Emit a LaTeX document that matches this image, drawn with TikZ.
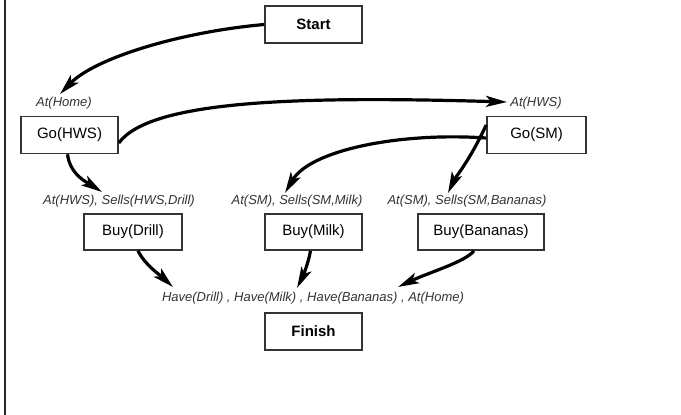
\documentclass[tikz,border=0pt]{standalone}
\usepackage{fontspec}
\setmainfont{Liberation Sans}
\usetikzlibrary{arrows.meta}
\definecolor{boxline}{HTML}{333333}
\definecolor{condtext}{HTML}{333333}
\tikzset{
  action/.style={draw=boxline, line width=1.6pt, minimum height=37pt, inner sep=0pt,
    font=\fontsize{15}{18}\selectfont},
  endpoint/.style={action, font=\fontsize{15}{18}\selectfont\bfseries},
  cond/.style={inner sep=0pt, text=condtext, font=\fontsize{13}{15}\selectfont\itshape},
  link/.style={line width=3.2pt, -{Stealth[length=21pt, width=11pt, inset=5pt]}}
}
\begin{document}
\begin{tikzpicture}[x=1pt, y=-1pt]
  \useasboundingbox (0,0) rectangle (681,415);
  \fill[white] (0,0) rectangle (681,415);
  \draw[line width=1.5pt, black!85] (5,0) -- (5,415);

  % steps of the plan
  \node[endpoint, minimum width=97pt] (start)  at (313.5,24.5) {Start};
  \node[action,   minimum width=97pt] (gohws)  at (69.5,135)   {Go(HWS)};
  \node[action,   minimum width=99pt] (gosm)   at (536.5,135)  {Go(SM)};
  \node[action,   minimum width=98pt, minimum height=36pt] (drill)  at (133,232) {Buy(Drill)};
  \node[action,   minimum width=97pt, minimum height=36pt] (milk)   at (313.5,232) {Buy(Milk)};
  \node[action,   minimum width=126pt, minimum height=36pt] (banana) at (481,232) {Buy(Bananas)};
  \node[endpoint, minimum width=97pt] (finish) at (313.5,331.5) {Finish};

  % preconditions
  \node[cond] (athome) at (64,103) {At(Home)};
  \node[cond] (athws)  at (536,103) {At(HWS)};
  \node[cond] (pdrill) at (119,201) {At(HWS), Sells(HWS,Drill)};
  \node[cond] (pmilk)  at (297,201) {At(SM), Sells(SM,Milk)};
  \node[cond] (pban)   at (467,201) {At(SM), Sells(SM,Bananas)};
  \node[cond] (goal)   at (313,298) {Have(Drill) , Have(Milk) , Have(Bananas) , At(Home)};

  % arrow tips on the preconditions
  \coordinate (tHome)  at (60,94);
  \coordinate (tHws)   at (507,102);
  \coordinate (tDrill) at (102,192);
  \coordinate (tMilk)  at (285,193);
  \coordinate (tBan)   at (448,193);
  \coordinate (gDrill) at (173,287);
  \coordinate (gMilk)  at (297,288);
  \coordinate (gBan)   at (398,287);

  % causal links
  \draw[link] (start.west) .. controls (180,32) and (95,58) .. (tHome);
  \draw[link] ([yshift=-8pt]gohws.east) .. controls (150,100) and (300,96) .. (tHws);
  \draw[link] ([xshift=-2pt]gohws.south) .. controls (70,175) and (88,183) .. (tDrill);
  \draw[link] ([yshift=-3pt]gosm.west) .. controls (400,132) and (310,150) .. (tMilk);
  \draw[link] ([yshift=10pt]gosm.west) .. controls (470,160) and (455,178) .. (tBan);
  \draw[link] ([xshift=5pt]drill.south) .. controls (145,265) and (160,275) .. (gDrill);
  \draw[link] ([xshift=-3pt]milk.south) .. controls (308,265) and (302,278) .. (gMilk);
  \draw[link] ([xshift=-7pt]banana.south) .. controls (465,262) and (430,272) .. (gBan);
\end{tikzpicture}
\end{document}
